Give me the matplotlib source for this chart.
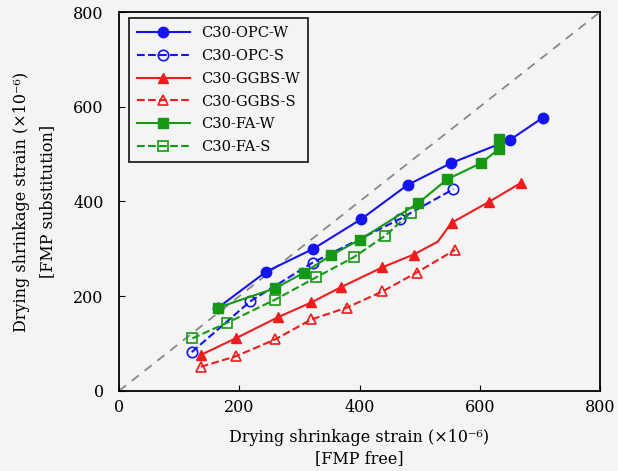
import numpy as np
import matplotlib
matplotlib.use('Agg')
from matplotlib import pyplot as plt

plt.rcParams['font.family'] = 'DejaVu Serif'

# FMP free (x) vs FMP substitution (y), x10^-6
opc_w_x = [165, 245, 323, 403, 480, 552, 650, 705]
opc_w_y = [176, 252, 300, 363, 435, 481, 530, 577]
opc_s_x = [121, 218, 322, 467, 556]
opc_s_y = [82, 189, 271, 363, 426]
ggbs_w_x = [136, 194, 265, 320, 369, 438, 490, 530, 553, 615, 668]
ggbs_w_y = [76, 111, 156, 187, 219, 261, 288, 315, 355, 399, 439]
ggbs_s_x = [136, 194, 260, 320, 379, 438, 495, 559]
ggbs_s_y = [51, 73, 109, 151, 176, 210, 250, 298]
fa_w_x = [165, 260, 308, 352, 400, 497, 546, 602, 632, 632]
fa_w_y = [176, 217, 250, 286, 319, 396, 447, 481, 511, 532]
fa_s_x = [122, 180, 260, 328, 390, 443, 485]
fa_s_y = [111, 144, 193, 240, 282, 328, 376]

blue = '#1414f0'
red = '#ee1c1c'
green = '#159915'
bg = '#f4f4f4'

fig = plt.figure(figsize=(6.18, 4.71), dpi=100, facecolor=bg)
ax = fig.add_axes([0.1926, 0.170, 0.7784, 0.8045], facecolor=bg)

ax.plot([0, 800], [0, 800], ls=(0, (5, 4)), color='#888888', lw=1.3, zorder=1)

ms = 7.5
ax.plot(opc_w_x, opc_w_y, '-', color=blue, marker='o', ms=ms, lw=1.5, label='C30-OPC-W')
ax.plot(opc_s_x, opc_s_y, '--', color=blue, marker='o', ms=ms, mfc='none', mew=1.2, lw=1.5, label='C30-OPC-S')
ax.plot(ggbs_w_x, ggbs_w_y, '-', color=red, marker='^', ms=ms, lw=1.5,
        markevery=[0, 1, 2, 3, 4, 5, 6, 8, 9, 10], label='C30-GGBS-W')
ax.plot(ggbs_s_x, ggbs_s_y, '--', color=red, marker='^', ms=ms, mfc='none', mew=1.2, lw=1.5, label='C30-GGBS-S')
ax.plot(fa_w_x, fa_w_y, '-', color=green, marker='s', ms=ms, lw=1.5, label='C30-FA-W')
ax.plot(fa_s_x, fa_s_y, '--', color=green, marker='s', ms=ms, mfc='none', mew=1.2, lw=1.5, label='C30-FA-S')

ax.set_xlim(0, 800)
ax.set_ylim(0, 800)
ax.set_xticks([0, 200, 400, 600, 800])
ax.set_yticks([0, 200, 400, 600, 800])
ax.tick_params(direction='in', length=4, labelsize=11.5, top=False, right=False)
ax.tick_params(axis='y', pad=11)
ax.tick_params(axis='x', pad=6)
for s in ax.spines.values():
    s.set_linewidth(1.3)

ax.set_xlabel('Drying shrinkage strain (×10⁻⁶)\n[FMP free]', fontsize=11.5, linespacing=1.35, labelpad=9)
ax.set_ylabel('Drying shrinkage strain (×10⁻⁶)\n[FMP substitution]', fontsize=11.5, linespacing=1.75, labelpad=12)

leg = ax.legend(loc='upper left', fontsize=10.5, handlelength=3.6, fancybox=False,
                edgecolor='#222222', framealpha=1, facecolor=bg, borderpad=0.55,
                labelspacing=0.6, borderaxespad=0.3, bbox_to_anchor=(0.012, 0.995))
leg.get_frame().set_linewidth(1.3)

fig.savefig('out.png', dpi=100, facecolor=bg)
